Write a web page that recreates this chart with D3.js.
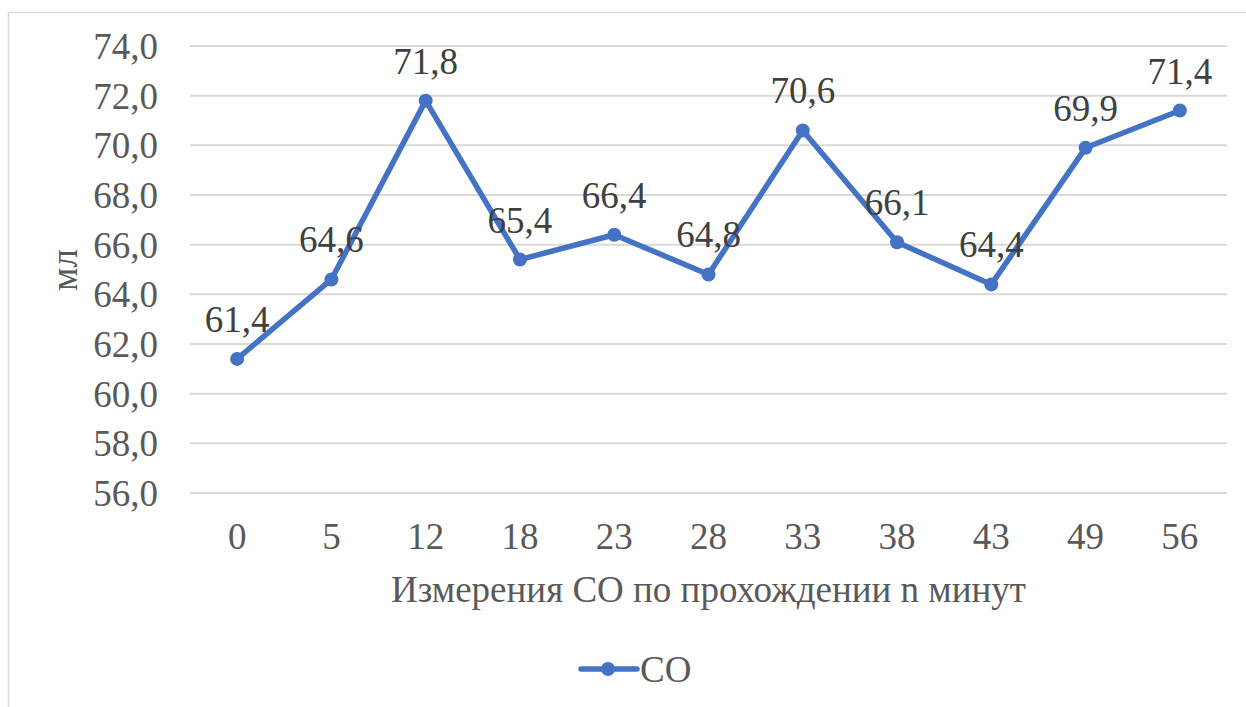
<!DOCTYPE html>
<html>
<head>
<meta charset="utf-8">
<script src="https://cdn.jsdelivr.net/npm/d3@7"></script>
<style>
  html, body { margin: 0; padding: 0; background: #fff; }
  svg { display: block; }
  svg text { font-family: "Times New Roman", "Liberation Serif", Tinos, "DejaVu Serif", serif !important; }
</style>
</head>
<body>
<svg id="chart" width="1246" height="707"></svg>
<script>
// Measurement times (minutes) and CO values (ml)
const categories = ["0", "5", "12", "18", "23", "28", "33", "38", "43", "49", "56"];
const coValues = [61.4, 64.6, 71.8, 65.4, 66.4, 64.8, 70.6, 66.1, 64.4, 69.9, 71.4];
const yTicks = [56, 58, 60, 62, 64, 66, 68, 70, 72, 74];
const seriesName = "CO";
const xTitle = "Измерения СО по прохождении n минут";
const yTitle = "мл";

const W = 1246, H = 707;
const margin = { left: 190, right: 19, top: 46, bottom: 214 };
const blue = "#4472C4";
const fmt = v => v.toFixed(1).replace(".", ",");

const svg = d3.select("#chart");

// chart frame
svg.append("rect")
  .attr("x", 8.5).attr("y", 12.5)
  .attr("width", 1260).attr("height", 720)
  .attr("fill", "#fff").attr("stroke", "#d9d9d9").attr("stroke-width", 1.5);

const x = d3.scaleBand().domain(categories)
  .range([margin.left, W - margin.right]).padding(0);
const y = d3.scaleLinear().domain([56, 74])
  .range([H - margin.bottom, margin.top]);

// horizontal gridlines
svg.append("g").selectAll("line").data(yTicks).join("line")
  .attr("x1", margin.left).attr("x2", W - margin.right)
  .attr("y1", d => y(d)).attr("y2", d => y(d))
  .attr("stroke", "#d9d9d9").attr("stroke-width", 2);

// y axis labels
const yAxis = d3.axisLeft(y).tickValues(yTicks).tickFormat(fmt).tickSize(0).tickPadding(0);
const gy = svg.append("g").attr("transform", `translate(158,0)`).call(yAxis);
gy.select(".domain").remove();
gy.attr("font-family", null);
gy.selectAll("text")
  .attr("font-size", 37).attr("fill", "#595959")
  .attr("dy", "0.34em");

// x axis labels
const xAxis = d3.axisBottom(x).tickSize(0).tickPadding(0);
const gx = svg.append("g").attr("transform", `translate(0,${H - margin.bottom})`).call(xAxis);
gx.select(".domain").remove();
gx.attr("font-family", null);
gx.selectAll("text")
  .attr("font-size", 37).attr("fill", "#595959")
  .attr("dy", null).attr("y", 56);

// axis titles
svg.append("text")
  .attr("x", (margin.left + W - margin.right) / 2).attr("y", 602)
  .attr("text-anchor", "middle").attr("font-size", 37).attr("fill", "#595959")
  .text(xTitle);

svg.append("text")
  .attr("transform", `translate(77,270) rotate(-90)`)
  .attr("text-anchor", "middle").attr("font-size", 37).attr("fill", "#595959")
  .text(yTitle);

// series line
const pts = categories.map((c, i) => ({ c, v: coValues[i] }));
const cx = d => x(d.c) + x.bandwidth() / 2;

svg.append("path").datum(pts)
  .attr("fill", "none").attr("stroke", blue).attr("stroke-width", 5.5)
  .attr("stroke-linejoin", "round").attr("stroke-linecap", "round")
  .attr("d", d3.line().x(cx).y(d => y(d.v)));

svg.append("g").selectAll("circle").data(pts).join("circle")
  .attr("cx", cx).attr("cy", d => y(d.v)).attr("r", 7)
  .attr("fill", blue);

// value labels
svg.append("g").selectAll("text").data(pts).join("text")
  .attr("x", cx).attr("y", d => y(d.v) - 27)
  .attr("text-anchor", "middle").attr("font-size", 37).attr("fill", "#404040")
  .text(d => fmt(d.v));

// legend
const lg = svg.append("g");
lg.append("line").attr("x1", 581).attr("x2", 637).attr("y1", 669).attr("y2", 669)
  .attr("stroke", blue).attr("stroke-width", 5.5).attr("stroke-linecap", "round");
lg.append("circle").attr("cx", 608).attr("cy", 669).attr("r", 7).attr("fill", blue);
lg.append("text").attr("x", 640).attr("y", 682)
  .attr("font-size", 37).attr("fill", "#595959").text(seriesName);
</script>
</body>
</html>
